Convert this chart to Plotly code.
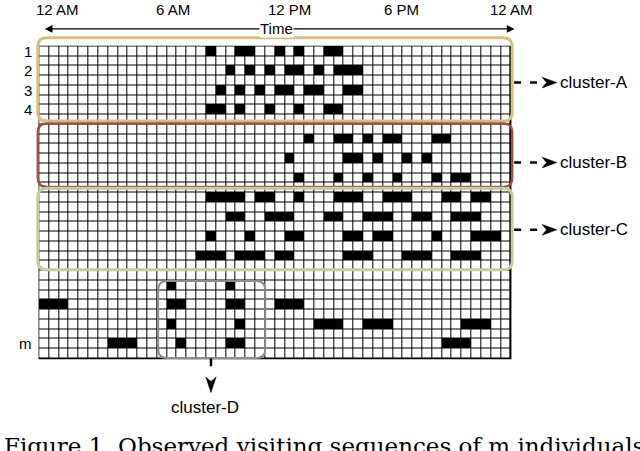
import plotly.graph_objects as go

# grid: 48 half-hour slots x 32 rows
n_slots = 48
n_rows = 32

# visited slots per individual (row index -> slot columns)
rows_a = [0, 2, 4, 6]
slots_a = [
    [17, 20, 21, 24, 26, 29, 30],
    [19, 21, 23, 25, 26, 28, 30, 31, 32],
    [18, 20, 22, 24, 25, 27, 28, 31, 32],
    [17, 18, 20, 23, 26, 29, 30],
]
rows_b = [9, 11, 13]
slots_b = [
    [27, 30, 31, 33, 35, 36, 40, 41],
    [25, 31, 32, 34, 37, 39],
    [26, 30, 33, 36, 40, 42, 43],
]
rows_c = [15, 17, 19, 21]
slots_c = [
    [17, 18, 19, 20, 22, 23, 26, 30, 31, 32, 35, 36, 37, 41, 42, 44, 45],
    [19, 20, 23, 24, 25, 29, 30, 33, 34, 35, 38, 39, 42, 43, 44],
    [17, 21, 25, 26, 31, 32, 34, 35, 40, 44, 45, 46],
    [16, 17, 18, 20, 21, 22, 24, 25, 31, 32, 33, 37, 38, 39, 42, 43, 44],
]
rows_other = [24, 26, 28, 30]
slots_other = [
    [13, 19],
    [0, 1, 2, 13, 14, 19, 20, 24, 25, 26],
    [13, 20, 28, 29, 30, 33, 34, 35, 43, 44, 45],
    [7, 8, 9, 14, 19, 20, 41, 42, 43],
]

time_labels = ["12 AM", "6 AM", "12 PM", "6 PM", "12 AM"]
row_labels = ["1", "2", "3", "4", "m"]

z = [[0] * n_slots for _ in range(n_rows)]
for rows, slots in [(rows_a, slots_a), (rows_b, slots_b), (rows_c, slots_c), (rows_other, slots_other)]:
    for r, cols in zip(rows, slots):
        for c in cols:
            z[r][c] = 1

fig = go.Figure()
fig.add_trace(go.Heatmap(
    z=z, x=list(range(n_slots)), y=list(range(n_rows)),
    colorscale=[[0, "white"], [1, "black"]], zmin=0, zmax=1,
    showscale=False, xgap=1, ygap=1, hoverinfo="skip",
))


def rounded(x0, y0, x1, y1, r=0.9):
    return (f"M {x0 + r},{y0} L {x1 - r},{y0} Q {x1},{y0} {x1},{y0 + r} "
            f"L {x1},{y1 - r} Q {x1},{y1} {x1 - r},{y1} L {x0 + r},{y1} "
            f"Q {x0},{y1} {x0},{y1 - r} L {x0},{y0 + r} Q {x0},{y0} {x0 + r},{y0} Z")


shapes = [
    # black backing so the brick gaps read as grid lines
    dict(type="rect", x0=-0.5, x1=n_slots - 0.5, y0=-0.5, y1=n_rows - 0.5,
         fillcolor="black", line=dict(color="black", width=1.5), layer="below"),
    dict(type="path", path=rounded(-0.65, -1.4, 47.65, 7.15), line=dict(color="#d6bf84", width=3)),
    dict(type="path", path=rounded(-0.65, 7.4, 47.65, 13.9), line=dict(color="#9c4f45", width=2.5)),
    dict(type="path", path=rounded(-0.65, 14.05, 47.65, 22.4), line=dict(color="#c3cd9f", width=3)),
    dict(type="path", path=rounded(11.6, 23.55, 22.5, 31.45), line=dict(color="#8c8c8c", width=2)),
]

# dashed pointers to cluster labels
for yy in [3.2, 11.4, 18.3]:
    shapes.append(dict(type="line", x0=47.85, x1=50.6, y0=yy, y1=yy,
                       line=dict(color="black", width=2.5, dash="7px,9px")))
    shapes.append(dict(type="path",
                       path=f"M 52.2,{yy} L 50.7,{yy - 0.55} L 51.15,{yy} L 50.7,{yy + 0.55} Z",
                       fillcolor="black", line=dict(color="black", width=0.5)))
shapes.append(dict(type="line", x0=16.98, x1=16.98, y0=31.5, y1=32.3,
                   line=dict(color="black", width=2.5)))
shapes.append(dict(type="path",
                   path="M 16.98,35.0 L 16.45,33.4 L 16.98,33.85 L 17.51,33.4 Z",
                   fillcolor="black", line=dict(color="black", width=0.5)))

annotations = []
for lbl, xx in zip(time_labels, [1.4, 13.1, 25.0, 36.4, 47.6]):
    annotations.append(dict(x=xx, y=-4.25, text=lbl, showarrow=False,
                            font=dict(size=15, color="black")))
# Time axis arrow (both ends)
annotations.append(dict(x=47.9, y=-2.3, ax=-0.1, ay=-2.3, axref="x", ayref="y",
                        text="", showarrow=True, arrowhead=2, arrowside="end+start",
                        arrowsize=1.3, arrowwidth=1.2, arrowcolor="black"))
annotations.append(dict(x=23.7, y=-2.3, text="Time", showarrow=False, bgcolor="white",
                        borderpad=0, font=dict(size=15, color="black")))
for lbl, yy in zip(row_labels, [0, 2, 4, 6, 30]):
    annotations.append(dict(x=-1.05, y=yy, text=lbl, showarrow=False, xanchor="right",
                            font=dict(size=15, color="black")))
for lbl, yy in zip(["cluster-A", "cluster-B", "cluster-C"], [3.2, 11.4, 18.3]):
    annotations.append(dict(x=52.3, y=yy, text=lbl, showarrow=False, xanchor="left",
                            font=dict(size=17, color="black")))
annotations.append(dict(x=16.4, y=36.5, text="cluster-D", showarrow=False,
                        font=dict(size=17, color="black")))
annotations.append(dict(x=0.003, y=0.012, xref="paper", yref="paper", xanchor="left",
                        yanchor="middle", showarrow=False,
                        text="Figure 1. Observed visiting sequences of m individuals",
                        font=dict(size=23, family="DejaVu Serif", color="black")))

fig.update_layout(
    width=640, height=451,
    margin=dict(l=0, r=0, t=0, b=0),
    paper_bgcolor="white", plot_bgcolor="white",
    font=dict(family="Liberation Sans, Arial, sans-serif"),
    shapes=shapes, annotations=annotations,
    showlegend=False,
)
fig.update_xaxes(range=[-4.502, 60.67], visible=False, fixedrange=True)
fig.update_yaxes(range=[40.99, -5.269], visible=False, fixedrange=True)

# drop the page's default body margin so the figure sits at the window corner
fig.write_html("out.html", config={"displayModeBar": False},
               post_script="document.body.style.margin = '0';")
